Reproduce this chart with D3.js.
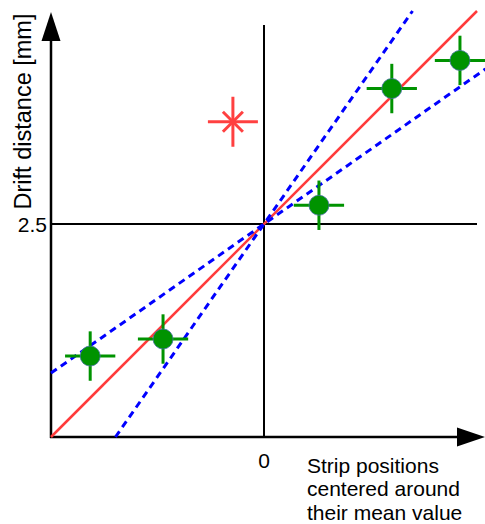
<!DOCTYPE html>
<html>
<head>
<meta charset="utf-8">
<script src="https://cdn.jsdelivr.net/npm/d3@7"></script>
<style>
  body { margin: 0; background: #fff; }
  svg { display: block; font-family: "Liberation Sans", Arial, sans-serif; }
</style>
</head>
<body>
<svg width="485" height="524"></svg>
<script>
// measured points (strip position, drift distance in mm)
var stripPos = [-4.08, -2.37, 1.29, 3.0, 4.6];
var driftDist = [0.95, 1.15, 2.72, 4.09, 4.42];
var errStrip = [0.59, 0.59, 0.59, 0.59, 0.59];
var errDrift = [0.29, 0.29, 0.29, 0.29, 0.29];

// the rejected hit
var outlierPos = [-0.73];
var outlierDist = [3.70];

// straight lines through (0, 2.5): slope and x range
var fitSlopes = [0.5, 0.717, 0.35];
var fitFrom = [-5, -3.487, -5];
var fitTo = [5, 3.487, 5.2];
var fitCenter = 2.5;

var yTickValues = [2.5];
var yTickLabels = ["2.5"];
var xTickValues = [0];
var xTickLabels = ["0"];

var svg = d3.select("svg");

// x runs from -5 to 5 over the width up to the end of the 2.5 line
var xScale = d3.scaleLinear().domain([-5, 5]).range([51, 477]);
var yScale = d3.scaleLinear().domain([0, 5]).range([437, 11]);

var plot = svg.append("g").attr("id", "plot");

// grid lines at 0 and 2.5
plot.append("line")
  .attr("x1", xScale(0)).attr("x2", xScale(0))
  .attr("y1", 25).attr("y2", yScale(0))
  .attr("stroke", "#000").attr("stroke-width", 2);

plot.append("line")
  .attr("x1", xScale(-5)).attr("x2", xScale(5))
  .attr("y1", yScale(2.5)).attr("y2", yScale(2.5))
  .attr("stroke", "#000").attr("stroke-width", 2);

// axes
plot.append("line")
  .attr("x1", xScale(-5)).attr("x2", xScale(-5))
  .attr("y1", 38).attr("y2", yScale(0) + 1)
  .attr("stroke", "#000").attr("stroke-width", 2.5);

plot.append("line")
  .attr("x1", xScale(-5) - 1).attr("x2", 460)
  .attr("y1", yScale(0)).attr("y2", yScale(0))
  .attr("stroke", "#000").attr("stroke-width", 2.5);

// arrow heads
var ax = xScale(-5), ay = yScale(0);
plot.append("path")
  .attr("d", "M" + ax + ",12L" + (ax - 9.5) + ",41L" + (ax + 9.5) + ",41Z")
  .attr("fill", "#000");
plot.append("path")
  .attr("d", "M485," + ay + "L457," + (ay - 9.5) + "L457," + (ay + 9.5) + "Z")
  .attr("fill", "#000");

// fit lines
var fitColors = ["#ff3b3b", "#0000ff", "#0000ff"];
var fitDash = [null, "7,5", "7,5"];
var fitWidth = [2.5, 3, 3];

for (let i = 0; i < fitSlopes.length; i++) {
  plot.append("line")
    .attr("x1", xScale(fitFrom[i]))
    .attr("y1", yScale(fitCenter + fitSlopes[i] * fitFrom[i]))
    .attr("x2", xScale(fitTo[i]))
    .attr("y2", yScale(fitCenter + fitSlopes[i] * fitTo[i]))
    .attr("stroke", fitColors[i])
    .attr("stroke-width", fitWidth[i])
    .attr("stroke-dasharray", fitDash[i]);
}

// measured points with error crosses
var points = [];
for (let i = 0; i < stripPos.length; i++) {
  points.push([stripPos[i], driftDist[i], errStrip[i], errDrift[i]]);
}

var green = "#009300";

var pts = plot.selectAll("g.point")
  .data(points)
  .enter()
  .append("g")
  .attr("class", "point");

pts.append("line")
  .attr("x1", function(d) { return xScale(d[0] - d[2]); })
  .attr("x2", function(d) { return xScale(d[0] + d[2]); })
  .attr("y1", function(d) { return yScale(d[1]); })
  .attr("y2", function(d) { return yScale(d[1]); })
  .attr("stroke", green).attr("stroke-width", 3);

pts.append("line")
  .attr("x1", function(d) { return xScale(d[0]); })
  .attr("x2", function(d) { return xScale(d[0]); })
  .attr("y1", function(d) { return yScale(d[1] - d[3]); })
  .attr("y2", function(d) { return yScale(d[1] + d[3]); })
  .attr("stroke", green).attr("stroke-width", 3);

pts.append("circle")
  .attr("cx", function(d) { return xScale(d[0]); })
  .attr("cy", function(d) { return yScale(d[1]); })
  .attr("r", 10)
  .attr("fill", green)
  .attr("stroke", "#4470a0")
  .attr("stroke-width", 0.8);

// outlier star
var red = "#ff4040";
for (let i = 0; i < outlierPos.length; i++) {
  let cx = xScale(outlierPos[i]), cy = yScale(outlierDist[i]);
  let star = plot.append("g");
  let arms = [[25, 0], [0, 25], [10, 10], [10, -10]];
  arms.forEach(function(a) {
    star.append("line")
      .attr("x1", cx - a[0]).attr("x2", cx + a[0])
      .attr("y1", cy - a[1]).attr("y2", cy + a[1])
      .attr("stroke", red).attr("stroke-width", 3);
  });
}

// tick labels
plot.selectAll("text.ytick")
  .data(yTickValues)
  .enter()
  .append("text")
  .attr("class", "ytick")
  .attr("x", 47)
  .attr("y", function(d) { return yScale(d) + 7.5; })
  .attr("text-anchor", "end")
  .style("font-size", "21px")
  .text(function(d, i) { return yTickLabels[i]; });

plot.selectAll("text.xtick")
  .data(xTickValues)
  .enter()
  .append("text")
  .attr("class", "xtick")
  .attr("x", function(d) { return xScale(d); })
  .attr("y", 468)
  .attr("text-anchor", "middle")
  .style("font-size", "21px")
  .text(function(d, i) { return xTickLabels[i]; });

// axis titles
svg.append("text")
  .attr("transform", "translate(31,111.5) rotate(-90)")
  .attr("text-anchor", "middle")
  .style("font-size", "23.5px")
  .text("Drift distance [mm]");

var xTitle = ["Strip positions", "centered around", "their mean value"];
svg.selectAll("text.xtitle")
  .data(xTitle)
  .enter()
  .append("text")
  .attr("class", "xtitle")
  .attr("x", 307)
  .attr("y", function(d, i) { return 472.5 + i * 23.5; })
  .style("font-size", "21px")
  .text(function(d) { return d; });
</script>
</body>
</html>
